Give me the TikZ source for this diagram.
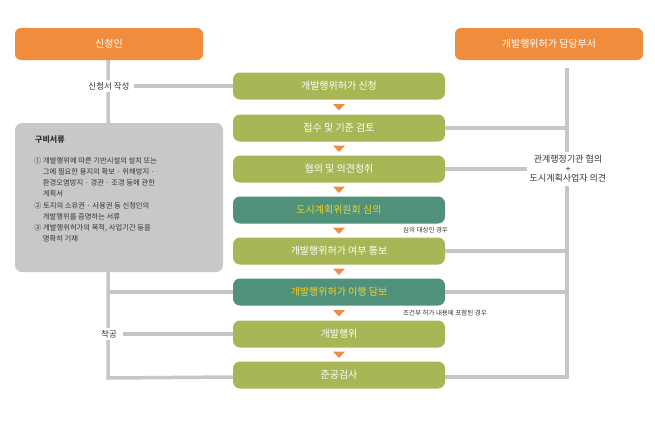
\documentclass[tikz,border=0pt]{standalone}
\usepackage{fontspec}
\setmainfont{Noto Sans CJK KR}
\usetikzlibrary{calc}
\definecolor{org}{HTML}{EF8D3D}
\definecolor{olv}{HTML}{A8B656}
\definecolor{tea}{HTML}{4F9179}
\definecolor{ylw}{HTML}{F5D22A}
\definecolor{gln}{HTML}{C6C6C6}
\definecolor{gbx}{HTML}{C8C8C8}
\definecolor{txt}{HTML}{333333}
\begin{document}
\begin{tikzpicture}[x=1pt,y=-1pt,
  head/.style={fill=org,rounded corners=6pt,minimum width=188pt,minimum height=32pt,text=white,font=\fontsize{10}{12}\selectfont,inner sep=0},
  stepbox/.style={fill=olv,rounded corners=7pt,minimum width=212pt,minimum height=27pt,text=white,font=\fontsize{10}{12}\selectfont,inner sep=0},
  tealbox/.style={stepbox,fill=tea,text=ylw},
  ln/.style={draw=gln,line width=3.5pt},
  lbl/.style={fill=white,text=txt,font=\fontsize{8.5}{10}\selectfont,inner sep=2pt},
  small/.style={text=txt,font=\fontsize{6.5}{8}\selectfont,inner sep=0}]
\useasboundingbox (0,0) rectangle (655,421);
\coordinate (L0) at (108,60);
\coordinate (L1) at (108,378);
\coordinate (R0) at (567,68);
\coordinate (R1) at (567,377);
\draw[ln] (L0) -- (L1) -- (233,377);
\draw[ln] (R0) -- (R1) -- (445,377);
\node[head] (app) at (109,44) {신청인};
\node[head] (dept) at (549,44) {개발행위허가 담당부서};
\node[stepbox] (s1) at (339,86) {개발행위허가 신청};
\node[stepbox] (s2) at (339,128) {접수 및 기준 검토};
\node[stepbox] (s3) at (339,169) {협의 및 의견청취};
\node[tealbox] (s4) at (339,210) {도시계획위원회 심의};
\node[stepbox] (s5) at (339,251) {개발행위허가 여부 통보};
\node[tealbox] (s6) at (339,292) {개발행위허가 이행 담보};
\node[stepbox] (s7) at (339,334) {개발행위};
\node[stepbox] (s8) at (339,375) {준공검사};
\foreach \a/\b in {s1/s2,s2/s3,s3/s4,s4/s5,s5/s6,s6/s7,s7/s8}{
  \path (\a.south) -- (\b.north) coordinate[midway] (m);
  \fill[org] ($(m)+(-6,-3)$) -- ($(m)+(6,-3)$) -- ($(m)+(0,3.5)$) -- cycle;
}
\node[lbl] (w1) at (109,86) {신청서 작성};
\draw[ln] ($(w1.east)+(2,0)$) -- (s1.west);
\draw[ln] (108,292) -- (s6.west);
\node[lbl] (w2) at (109,334) {착공};
\draw[ln] ($(w2.east)+(4,0)$) -- (s7.west);
\draw[ln] (s2.east) -- (567,128);
\draw[ln] (s5.east) -- (567,251);
\draw[ln] (s6.east) -- (567,292);
\node[lbl,align=center,font=\fontsize{9}{9.5}\selectfont,inner sep=3pt] (w3) at (568,169) {관계행정기관 협의\\+\\도시계획사업자 의견};
\draw[ln] (s3.east) -- (w3.west);
\node[small,anchor=west] (n1) at (403,230) {심의 대상인 경우};
\node[small,anchor=west] (n2) at (403,313) {조건부 허가 내용에 포함된 경우};
\node[fill=gbx,rounded corners=7pt,minimum width=208pt,minimum height=149pt,inner sep=0] (doc) at (119,197.5) {};
\node[anchor=north west,text=txt,font=\bfseries\fontsize{8}{10}\selectfont,inner sep=0] (dt) at (35,136) {구비서류};
\node[anchor=north west,text=txt,font=\fontsize{7.3}{11.2}\selectfont,inner sep=0,align=left] (dl) at (34,157)
{① 개발행위에 따른 기반시설의 설치 또는\\
\hspace*{1.2em}그에 필요한 용지의 확보 · 위해방지 ·\\
\hspace*{1.2em}환경오염방지 · 경관 · 조경 등에 관한\\
\hspace*{1.2em}계획서\\
② 토지의 소유권 · 사용권 등 신청인의\\
\hspace*{1.2em}개발행위를 증명하는 서류\\
③ 개발행위허가의 목적, 사업기간 등을\\
\hspace*{1.2em}명확히 기재};
\end{tikzpicture}
\end{document}
